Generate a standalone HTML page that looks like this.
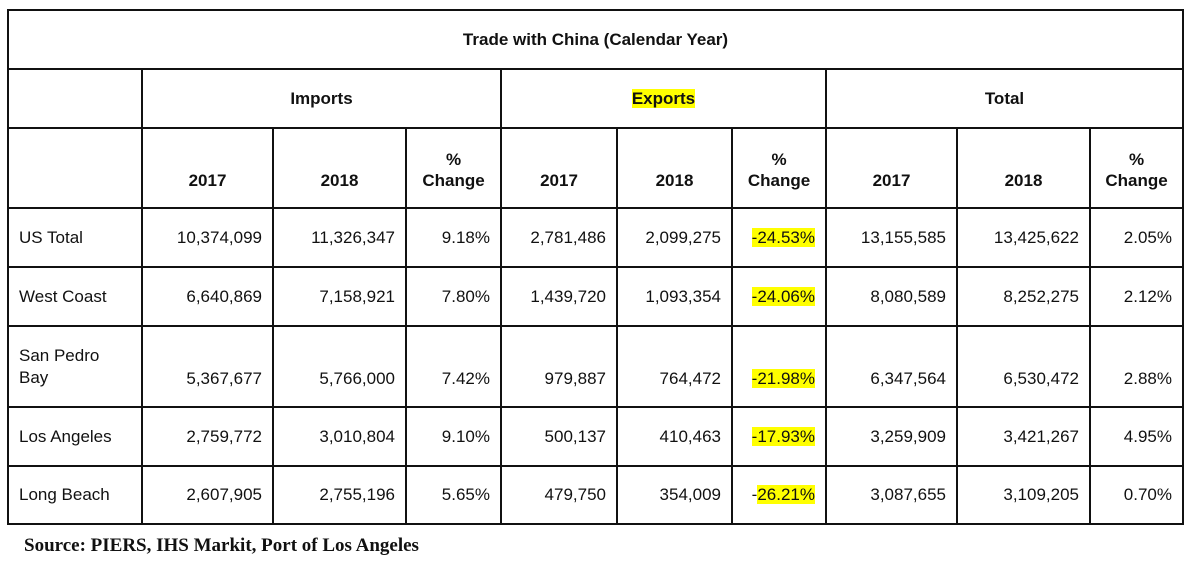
<!DOCTYPE html>
<html><head><meta charset="utf-8"><style>
body{margin:0;background:#fff;width:1200px;height:566px;overflow:hidden;font-family:"Liberation Sans",Arial,sans-serif;color:#111}
table{position:absolute;left:7px;top:9px;border-collapse:collapse;table-layout:fixed;font-size:17px}
td{border:2px solid #111;padding:0 10px;text-align:right;vertical-align:middle;white-space:nowrap}
td.l{text-align:left;padding-left:10px;white-space:normal;line-height:22px}
tr.sp td{vertical-align:bottom;padding-bottom:17px}
tr.sp td.l{padding-bottom:17px}
th{border:2px solid #111;font-weight:bold;text-align:center;vertical-align:middle;line-height:21px}
tr.h3 th{vertical-align:bottom;padding-bottom:16px}
.y{background:#ffff00}
.src{position:absolute;left:24px;top:535px;font-family:"Liberation Serif",serif;font-weight:bold;font-size:19px}
</style></head><body>
<table>
<colgroup><col style="width:134px"><col style="width:131px"><col style="width:133px"><col style="width:95px"><col style="width:116px"><col style="width:115px"><col style="width:94px"><col style="width:131px"><col style="width:133px"><col style="width:93px"></colgroup>
<tr style="height:59px"><th colspan="10">Trade with China (Calendar Year)</th></tr>
<tr style="height:59px"><th></th><th colspan="3">Imports</th><th colspan="3"><span class="y">Exports</span></th><th colspan="3">Total</th></tr>
<tr class="h3" style="height:80px"><th></th><th>2017</th><th>2018</th><th>%<br>Change</th><th>2017</th><th>2018</th><th>%<br>Change</th><th>2017</th><th>2018</th><th>%<br>Change</th></tr>
<tr style="height:59px"><td class="l">US Total</td><td>10,374,099</td><td>11,326,347</td><td>9.18%</td><td>2,781,486</td><td>2,099,275</td><td><span class="y">-24.53%</span></td><td>13,155,585</td><td>13,425,622</td><td>2.05%</td></tr>
<tr style="height:59px"><td class="l">West Coast</td><td>6,640,869</td><td>7,158,921</td><td>7.80%</td><td>1,439,720</td><td>1,093,354</td><td><span class="y">-24.06%</span></td><td>8,080,589</td><td>8,252,275</td><td>2.12%</td></tr>
<tr class="sp" style="height:81px"><td class="l">San Pedro<br>Bay</td><td>5,367,677</td><td>5,766,000</td><td>7.42%</td><td>979,887</td><td>764,472</td><td><span class="y">-21.98%</span></td><td>6,347,564</td><td>6,530,472</td><td>2.88%</td></tr>
<tr style="height:59px"><td class="l">Los Angeles</td><td>2,759,772</td><td>3,010,804</td><td>9.10%</td><td>500,137</td><td>410,463</td><td><span class="y">-17.93%</span></td><td>3,259,909</td><td>3,421,267</td><td>4.95%</td></tr>
<tr style="height:58px"><td class="l">Long Beach</td><td>2,607,905</td><td>2,755,196</td><td>5.65%</td><td>479,750</td><td>354,009</td><td>-<span class="y">26.21%</span></td><td>3,087,655</td><td>3,109,205</td><td>0.70%</td></tr>
</table>
<div class="src">Source: PIERS, IHS Markit, Port of Los Angeles</div>
</body></html>
